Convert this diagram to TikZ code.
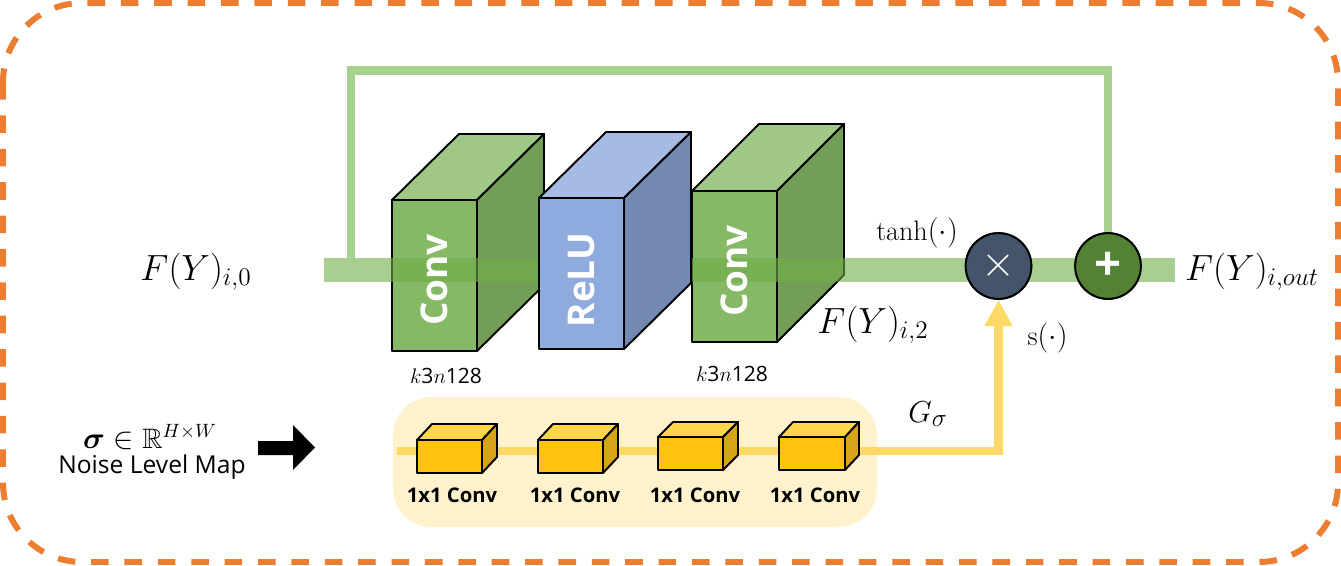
\documentclass[tikz,border=0pt]{standalone}
\usepackage{amsmath,amssymb,bm}
\usepackage{fontspec}
\setsansfont{Open Sans}
\usetikzlibrary{arrows.meta}
\definecolor{orangeB}{HTML}{ED7D31}
\definecolor{bandG}{HTML}{70AD47}
\definecolor{skipG}{HTML}{A9D18E}
\definecolor{convF}{HTML}{85B966}
\definecolor{convT}{HTML}{9FC886}
\definecolor{convS}{HTML}{739E57}
\definecolor{reluF}{HTML}{8FAADC}
\definecolor{reluT}{HTML}{A6BBE3}
\definecolor{reluS}{HTML}{7489B2}
\definecolor{timesC}{HTML}{44546A}
\definecolor{plusC}{HTML}{548235}
\definecolor{yelBG}{HTML}{FFF2CC}
\definecolor{yelL}{HTML}{FFD966}
\definecolor{smallF}{HTML}{FFC20E}
\definecolor{smallT}{HTML}{FFD54A}
\definecolor{smallS}{HTML}{D6A419}
\newcommand\boxcube[7]{%
  \filldraw[fill=#7F,cubeline] (#1,#2) rectangle ({#1+#3},{#2+#4});
  \filldraw[fill=#7T,cubeline] (#1,#2) -- ({#1+#5},{#2-#6}) -- ({#1+#3+#5},{#2-#6}) -- ({#1+#3},#2) -- cycle;
  \filldraw[fill=#7S,cubeline] ({#1+#3},#2) -- ({#1+#3+#5},{#2-#6}) -- ({#1+#3+#5},{#2+#4-#6}) -- ({#1+#3},{#2+#4}) -- cycle;
}
\tikzset{
  cubeline/.style={draw=black,line width=1.1pt,line join=round},
  mathlbl/.style={inner sep=0pt,font=\fontsize{20}{24}\selectfont},
  smalllbl/.style={inner sep=0pt,font=\fontsize{16}{19}\selectfont},
  bigtxt/.style={inner sep=0pt,text=white,rotate=90,font=\sffamily\bfseries\fontsize{21}{25}\selectfont},
  convlbl/.style={inner sep=0pt,font=\sffamily\bfseries\fontsize{11.5}{13}\selectfont},
  klbl/.style={inner sep=0pt,font=\sffamily\fontsize{12}{14}\selectfont},
  opcircle/.style={circle,draw=black,line width=1.1pt,minimum size=37.4pt,inner sep=0pt,text=white},
}
\begin{document}
\begin{tikzpicture}[x=0.02cm,y=-0.02cm]
\useasboundingbox (0,0) rectangle (1341,565);
% outer dashed border
\draw[orangeB,line width=3.4pt,dash pattern=on 10pt off 9pt,rounded corners=45pt] (3,3) rectangle (1338,562);
% yellow background
\fill[yelBG,rounded corners=22pt] (393,397) rectangle (877,527);
% operator circles (defined early for connectors)
\node[opcircle,fill=timesC] (times) at (998.5,266) {};
\node[opcircle,fill=plusC] (plus) at (1108,266) {};
% yellow path with arrow
\coordinate (ystart) at (397,451);
\draw[yelL,line width=5pt,-{Triangle[width=15pt,length=15pt]}] (ystart) -| (times.south);
% small cubes
\boxcube{417}{440}{65}{33}{15}{16}{small}
\boxcube{538}{440}{65}{33}{15}{16}{small}
\boxcube{658}{437}{65}{33}{15}{15}{small}
\boxcube{779}{437}{66}{33}{14}{15}{small}
\node[convlbl] (c1) at (452,495) {1x1 Conv};
\node[convlbl] (c2) at (575,495) {1x1 Conv};
\node[convlbl] (c3) at (695,495) {1x1 Conv};
\node[convlbl] (c4) at (815,495) {1x1 Conv};
% skip connection
\coordinate (skipstart) at (351,258);
\draw[skipG,line width=4.8pt] (skipstart) -- (351,70.5) -| (plus.north);
% conv cubes
\boxcube{392}{200}{85}{151}{67}{66}{conv}
\boxcube{692}{191}{85}{151}{67}{67}{conv}
% main band
\coordinate (bin) at (324,270);
\coordinate (bout) at (1175,270);
\draw[bandG,opacity=0.6,line width=13.6pt] (bin) -- (bout);
% relu cube on top
\boxcube{539}{198}{85}{151}{67}{66}{relu}
% circles drawn on top of band
\node[opcircle,fill=timesC] at (times) {\fontsize{25}{30}\selectfont$\times$};
\node[opcircle,fill=plusC] at (plus) {\sffamily\bfseries\fontsize{27}{30}\selectfont +};
% cube texts
\node[bigtxt] (t1) at (434.5,280) {Conv};
\node[bigtxt] (t2) at (581.5,280) {ReLU};
\node[bigtxt] (t3) at (734.5,271) {Conv};
\node[klbl] (k1) at (446,376) {$k$3$n$128};
\node[klbl] (k2) at (732,374) {$k$3$n$128};
% math labels
\node[mathlbl] (fin) at (196,272) {$F(Y)_{i,0}$};
\node[mathlbl] (fout) at (1252,272) {$F(Y)_{i,out}$};
\node[mathlbl] (f2) at (873,325) {$F(Y)_{i,2}$};
\node[smalllbl] (tanh) at (917,233) {$\tanh(\cdot)$};
\node[smalllbl] (s) at (1047.5,338) {$\mathrm{s}(\cdot)$};
\node[inner sep=0pt,font=\fontsize{19}{23}\selectfont] (g) at (928,414) {$G_{\sigma}$};
% noise level map input
\node[inner sep=0pt,font=\fontsize{16}{19}\selectfont] (sig) at (150,437) {$\bm{\sigma}\in\mathbb{R}^{H\times W}$};
\node[inner sep=0pt,font=\sffamily\fontsize{14}{17}\selectfont] (nlm) at (152,467) {Noise Level Map};
\fill[black] (258,441) -- (293,441) -- (293,425) -- (315,447.5) -- (293,470) -- (293,455) -- (258,455) -- cycle;
\end{tikzpicture}
\end{document}
